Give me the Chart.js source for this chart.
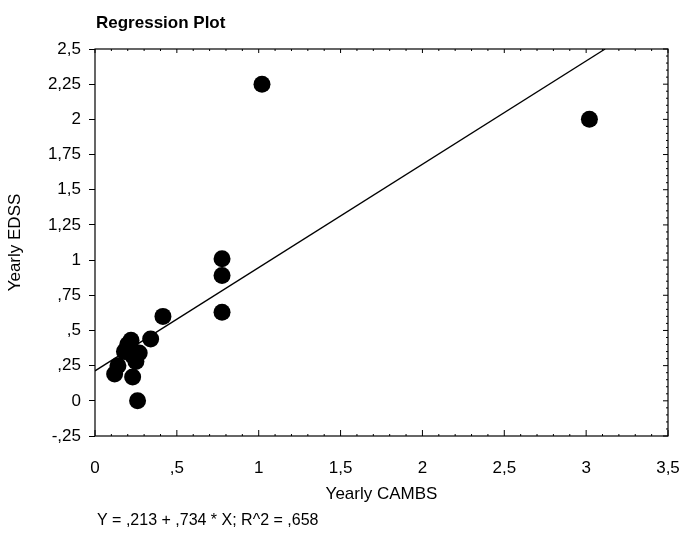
<!DOCTYPE html>
<html>
<head>
<meta charset="utf-8">
<script src="https://cdn.jsdelivr.net/npm/chart.js@4"></script>
<style>
    html, body { margin: 0; padding: 0; background: #fff; }
    #wrap { width: 684px; height: 535px; }
</style>
</head>
<body>
<div id="wrap"><canvas id="regression-chart"></canvas></div>
<script>
const cambs = [1.02, 3.02, 0.776, 0.776, 0.776, 0.415, 0.34, 0.22, 0.20, 0.18, 0.23, 0.27, 0.25, 0.14, 0.12, 0.23, 0.26];
const edss  = [2.25, 2.0, 1.01, 0.89, 0.63, 0.60, 0.44, 0.43, 0.40, 0.35, 0.32, 0.34, 0.28, 0.25, 0.19, 0.17, 0.0];

const fitX = [0, 3.116];
const fitY = [0.213, 2.5];

const xTickLabels = ['0', ',5', '1', '1,5', '2', '2,5', '3', '3,5'];
const yTickLabels = ['-,25', '0', ',25', ',5', ',75', '1', '1,25', '1,5', '1,75', '2', '2,25', '2,5'];

const chartTitle = 'Regression Plot';
const equationText = 'Y = ,213 + ,734 * X; R^2 = ,658';

const FONT = '"Liberation Sans", Arial, sans-serif';

const framePlugin = {
    id: 'frame',
    afterDraw(chart) {
        const { ctx, chartArea: a, scales } = chart;
        const x = scales.x, y = scales.y;
        ctx.save();
        ctx.strokeStyle = '#000';
        ctx.lineWidth = 1.2;
        ctx.strokeRect(a.left, a.top, a.right - a.left, a.bottom - a.top);

        ctx.lineWidth = 1;
        ctx.beginPath();
        // bottom: major ticks pointing in, minor small
        for (let i = 0; i <= 35; i++) {
            const v = i / 10;
            const px = x.getPixelForValue(v);
            const len = (i % 5 === 0) ? 6 : 2;
            ctx.moveTo(px, a.bottom);
            ctx.lineTo(px, a.bottom - len);
            ctx.moveTo(px, a.top);
            ctx.lineTo(px, a.top + ((i % 5 === 0) ? 4 : 2));
        }
        // right side minor ticks
        for (let i = -5; i <= 50; i++) {
            const py = y.getPixelForValue(i / 20);
            const len = (i % 5 === 0) ? 5 : 2;
            ctx.moveTo(a.right, py);
            ctx.lineTo(a.right - len, py);
        }
        ctx.stroke();

        ctx.fillStyle = '#000';
        ctx.textAlign = 'left';
        ctx.textBaseline = 'middle';
        ctx.font = 'bold 17px ' + FONT;
        ctx.fillText(chartTitle, a.left + 1, 23);
        ctx.font = '16px ' + FONT;
        ctx.fillText(equationText, a.left + 2, 521);
        ctx.restore();
    }
};

const ctx = document.getElementById('regression-chart').getContext('2d');

new Chart(ctx, {
    type: 'scatter',
    data: {
        datasets: [{
            label: 'Observed',
            data: cambs.map((v, i) => ({ x: v, y: edss[i] })),
            backgroundColor: '#000',
            borderWidth: 0,
            pointRadius: 8.5,
            order: 1
        }, {
            type: 'line',
            label: 'Fit',
            data: fitX.map((v, i) => ({ x: v, y: fitY[i] })),
            borderColor: '#000',
            borderWidth: 1.3,
            pointRadius: 0,
            fill: false,
            order: 2
        }]
    },
    options: {
        responsive: true,
        maintainAspectRatio: false,
        animation: false,
        layout: {
            padding: { left: 0, right: 16, top: 49, bottom: 30 }
        },
        scales: {
            x: {
                type: 'linear',
                min: 0,
                max: 3.5,
                afterFit: function(scale) {
                    scale.height = 69;
                    scale.paddingLeft = 0;
                    scale.paddingRight = 0;
                },
                afterBuildTicks: function(scale) {
                    scale.ticks = xTickLabels.map((t, i) => ({ value: i * 0.5 }));
                },
                grid: { display: false },
                border: { display: false },
                ticks: {
                    color: '#000',
                    padding: 14,
                    maxRotation: 0,
                    font: { family: FONT, size: 17 },
                    callback: function(value, index) { return xTickLabels[index]; }
                },
                title: {
                    display: true,
                    text: 'Yearly CAMBS',
                    color: '#000',
                    padding: 0,
                    font: { family: FONT, size: 17 }
                }
            },
            y: {
                type: 'linear',
                min: -0.25,
                max: 2.5,
                afterFit: function(scale) { scale.width = 95; },
                afterBuildTicks: function(scale) {
                    scale.ticks = yTickLabels.map((t, i) => ({ value: -0.25 + i * 0.25 }));
                },
                grid: {
                    drawOnChartArea: false,
                    color: '#000',
                    tickLength: 6,
                    lineWidth: 1
                },
                border: { display: false },
                ticks: {
                    color: '#000',
                    padding: 8,
                    font: { family: FONT, size: 17 },
                    callback: function(value, index) { return yTickLabels[index]; }
                },
                title: {
                    display: true,
                    text: 'Yearly EDSS',
                    color: '#000',
                    padding: 5,
                    font: { family: FONT, size: 17 }
                }
            }
        },
        plugins: {
            legend: { display: false },
            tooltip: { enabled: false }
        }
    },
    plugins: [framePlugin]
});
</script>
</body>
</html>
